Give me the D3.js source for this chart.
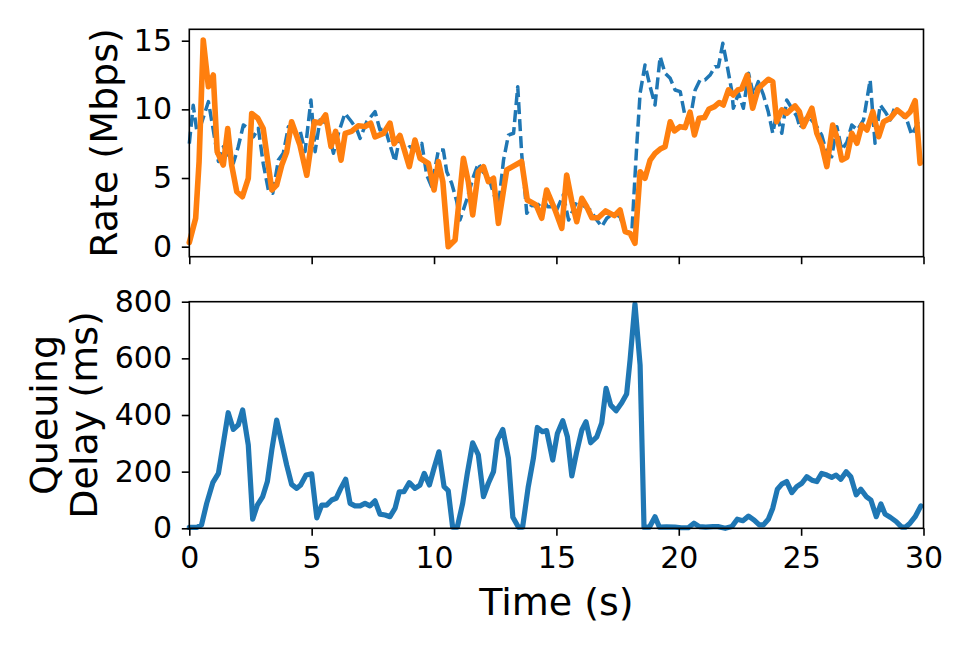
<!DOCTYPE html>
<html>
<head>
<meta charset="utf-8">
<script src="https://cdn.jsdelivr.net/npm/d3@7"></script>
<style>
  body { margin: 0; background: #fff; }
  text { font-family: "DejaVu Sans", sans-serif; fill: #000; }
</style>
</head>
<body>
<div id="chart"></div>
<script>
const svgWidth = 969, svgHeight = 646;
const plotLeft = 189.3, plotRight = 923.5;
const topPanel = { top: 29.3, bottom: 256.7 };
const botPanel = { top: 301.7, bottom: 528.3 };

const xTicks = [0, 5, 10, 15, 20, 25, 30];
const rateTicks = [0, 5, 10, 15];
const delayTicks = [0, 200, 400, 600, 800];

// blue dashed rate line
const capTimes = [0, 0.16, 0.3, 0.5, 0.78, 0.98, 1.19, 1.39, 1.59, 1.8, 2.0, 2.21, 2.41, 2.62, 2.82, 3.02, 3.23, 3.41, 3.64, 3.84,
  4.05, 4.3, 4.52, 4.73, 4.97, 5.14, 5.34, 5.6, 5.89, 6.1, 6.36, 6.63, 6.85, 6.98, 7.25, 7.59, 7.79, 8.0, 8.2, 8.41,
  8.61, 8.82, 9.0, 9.29, 9.5, 9.7, 9.9, 10.18, 10.38, 10.52, 10.72, 10.93, 11.06, 11.33, 11.61, 11.81, 12.02, 12.22, 12.43, 12.63,
  12.84, 13.04, 13.25, 13.42, 13.58, 13.79, 13.99, 14.2, 14.47, 14.65, 14.88, 15.01, 15.28, 15.5, 15.83, 16.1, 16.38, 16.65, 16.85, 17.06,
  17.33, 17.6, 17.81, 18.08, 18.28, 18.42, 18.62, 18.83, 19.03, 19.24, 19.44, 19.65, 19.85, 20.06, 20.26, 20.46, 20.67, 20.87, 21.07, 21.28,
  21.48, 21.62, 21.8, 21.96, 22.17, 22.23, 22.44, 22.64, 22.85, 23.05, 23.25, 23.46, 23.66, 23.84, 24.0, 24.21, 24.41, 24.62, 24.82, 24.96,
  25.23, 25.44, 25.64, 25.84, 26.05, 26.25, 26.46, 26.66, 26.87, 27.07, 27.3, 27.55, 27.82, 28.02, 28.23, 28.43, 28.64, 28.84, 29.05, 29.32,
  29.52, 29.86];
const capRate = [7.5, 10.3, 8.5, 9.0, 10.56, 8.5, 6.2, 7.28, 6.7, 6.07, 7.28, 8.86, 8.62, 8.0, 8.62, 6.07, 4.13, 3.89, 6.31, 6.8,
  8.74, 8.4, 8.5, 6.92, 10.68, 6.92, 9.23, 9.0, 6.8, 8.3, 9.71, 9.1, 8.5, 7.89, 9.1, 9.83, 8.5, 8.62, 7.4, 6.2,
  8.13, 6.8, 7.28, 7.04, 7.53, 5.22, 4.37, 7.04, 7.04, 5.46, 4.62, 3.28, 1.94, 3.4, 5.1, 6.07, 5.4, 5.1, 3.89, 2.91,
  6.31, 8.13, 8.26, 11.65, 6.8, 2.43, 3.04, 2.9, 3.4, 2.9, 2.91, 2.67, 3.77, 1.94, 3.28, 3.0, 2.67, 1.94, 1.46, 2.07,
  2.43, 2.18, 1.09, 0.97, 7.28, 11.17, 13.23, 11.65, 10.32, 13.84, 12.63, 12.26, 11.41, 11.29, 9.47, 9.23, 11.41, 12.14, 12.14, 12.5,
  13.11, 13.11, 14.81, 13.36, 11.29, 10.08, 11.17, 10.08, 12.63, 11.05, 12.02, 11.05, 9.8, 8.26, 9.71, 8.26, 10.68, 10.08, 9.5, 8.62,
  9.47, 9.2, 8.74, 8.13, 6.8, 6.55, 8.74, 7.04, 7.6, 8.86, 8.5, 9.23, 12.14, 7.53, 10.32, 9.83, 9.23, 10.2, 9.71, 9.23,
  8.13, 9.35];

// orange solid rate line
const sendTimes = [0, 0.26, 0.4, 0.57, 0.78, 0.98, 1.14, 1.39, 1.57, 1.73, 1.94, 2.17, 2.41, 2.55, 2.8, 3.02, 3.37, 3.57, 3.78, 3.98,
  4.18, 4.52, 4.8, 5.11, 5.34, 5.57, 5.79, 5.98, 6.2, 6.37, 6.63, 6.9, 7.18, 7.41, 7.59, 7.93, 8.2, 8.37, 8.61, 8.99,
  9.22, 9.43, 9.77, 10.0, 10.18, 10.36, 10.58, 10.86, 11.2, 11.4, 11.58, 11.81, 12.02, 12.22, 12.43, 12.63, 12.97, 13.58, 13.81, 14.17,
  14.4, 14.6, 14.94, 15.22, 15.42, 15.63, 15.83, 16.04, 16.24, 16.45, 16.71, 17.01, 17.37, 17.6, 17.81, 18.01, 18.21, 18.42, 18.62, 18.83,
  19.03, 19.24, 19.44, 19.65, 19.82, 20.05, 20.26, 20.46, 20.64, 20.83, 21.05, 21.24, 21.46, 21.65, 21.82, 22.03, 22.23, 22.41, 22.57, 22.8,
  23.02, 23.25, 23.66, 23.84, 24.0, 24.21, 24.41, 24.75, 24.93, 25.09, 25.44, 25.64, 25.84, 26.05, 26.29, 26.48, 26.66, 26.87, 27.07, 27.28,
  27.48, 27.69, 27.93, 28.17, 28.37, 28.64, 28.92, 29.26, 29.46, 29.66, 29.86];
const sendRate = [0.3, 2.07, 6.2, 15.05, 11.65, 12.5, 6.9, 5.95, 8.6, 5.95, 4.0, 3.64, 4.98, 9.7, 9.35, 8.6, 4.13, 4.49, 5.95, 6.9,
  9.1, 7.4, 5.2, 9.1, 9.0, 9.6, 7.3, 8.4, 6.3, 8.25, 8.4, 8.8, 8.75, 9.0, 8.0, 8.25, 9.0, 7.5, 8.1, 5.83,
  7.77, 6.44, 6.07, 4.13, 6.2, 4.73, 0.0, 0.49, 6.44, 4.73, 2.31, 5.46, 5.83, 4.73, 4.98, 1.7, 5.59, 6.2, 3.4, 3.04,
  2.07, 4.13, 2.7, 1.34, 5.22, 3.28, 1.82, 3.52, 2.91, 2.11, 2.11, 2.6, 2.26, 2.67, 1.09, 0.97, 0.25, 5.46, 4.98, 6.31,
  6.8, 7.11, 7.28, 9.1, 8.43, 8.74, 8.67, 9.79, 8.13, 9.35, 9.4, 10.03, 10.2, 10.5, 10.32, 11.41, 11.05, 11.41, 11.49, 12.5,
  10.08, 11.53, 12.19, 12.02, 9.1, 9.96, 9.71, 10.25, 9.83, 8.74, 10.08, 8.26, 7.41, 5.83, 8.86, 7.89, 6.31, 6.51, 8.26, 7.53,
  8.86, 8.5, 9.83, 8.01, 9.1, 9.35, 9.96, 9.47, 9.83, 10.63, 6.07];

// queuing delay
const delayTimes = [0, 0.3, 0.5, 0.71, 0.96, 1.19, 1.39, 1.59, 1.8, 2.0, 2.18, 2.41, 2.59, 2.78, 3.0, 3.19, 3.37, 3.57, 3.78, 3.98,
  4.18, 4.39, 4.55, 4.77, 5.0, 5.21, 5.41, 5.61, 5.82, 6.0, 6.19, 6.39, 6.57, 6.77, 6.98, 7.18, 7.38, 7.59, 7.79, 8.0,
  8.2, 8.41, 8.58, 8.77, 8.99, 9.22, 9.43, 9.6, 9.81, 10.0, 10.2, 10.41, 10.58, 10.76, 10.95, 11.17, 11.36, 11.58, 11.81, 12.02,
  12.22, 12.43, 12.59, 12.81, 13.04, 13.22, 13.45, 13.62, 13.85, 14.06, 14.22, 14.43, 14.6, 14.85, 15.04, 15.26, 15.45, 15.63, 15.83, 16.04,
  16.21, 16.4, 16.65, 16.85, 17.03, 17.22, 17.44, 17.67, 17.87, 18.01, 18.21, 18.42, 18.58, 18.8, 19.03, 19.21, 19.5, 19.85, 20.1, 20.39,
  20.62, 20.84, 21.1, 21.4, 21.6, 21.9, 22.17, 22.39, 22.62, 22.85, 23.08, 23.29, 23.46, 23.66, 23.84, 24.03, 24.21, 24.41, 24.62, 24.82,
  25.03, 25.23, 25.44, 25.64, 25.84, 26.05, 26.25, 26.43, 26.62, 26.84, 27.03, 27.25, 27.44, 27.66, 27.85, 28.07, 28.26, 28.43, 28.64, 28.88,
  29.11, 29.26, 29.45, 29.66, 29.89];
const delayMs = [3, 3, 12, 88, 161, 194, 300, 408, 349, 365, 418, 294, 32, 82, 112, 165, 276, 382, 300, 223,
  155, 141, 153, 188, 192, 37, 82, 82, 100, 106, 141, 173, 88, 79, 79, 88, 79, 97, 50, 47,
  41, 71, 129, 129, 161, 141, 153, 194, 153, 212, 270, 147, 133, 4, 4, 88, 194, 302, 259, 112,
  159, 200, 312, 349, 247, 39, 4, 4, 147, 247, 356, 341, 345, 241, 335, 380, 323, 185, 270, 347,
  376, 302, 323, 371, 494, 435, 415, 443, 474, 594, 792, 576, 4, 4, 41, 4, 5, 4, 2, 2,
  18, 6, 4, 6, 6, 0, 6, 32, 27, 43, 29, 12, 12, 32, 71, 138, 156, 165, 126, 147,
  159, 182, 170, 165, 194, 188, 180, 188, 173, 200, 182, 118, 138, 112, 100, 41, 86, 50, 39, 24,
  4, 4, 18, 41, 79];

const blue = "#1f77b4", orange = "#ff7f0e";

let svg = d3.select("#chart")
  .append("svg")
  .attr("width", svgWidth)
  .attr("height", svgHeight);

svg.append("rect").attr("width", svgWidth).attr("height", svgHeight).attr("fill", "#fff");

let x = d3.scaleLinear().domain([0, 30]).range([plotLeft, plotRight]);
let yRate = d3.scaleLinear().domain([-0.73, 15.83]).range([topPanel.bottom, topPanel.top]);
let yDelay = d3.scaleLinear().domain([0, 800]).range([botPanel.bottom, botPanel.top]);

function add_series(times, values, y, color, width, dash) {
  let pts = times.map((t, i) => [t, values[i]]);
  let line = d3.line().x(d => x(d[0])).y(d => y(d[1]));
  let p = svg.append("path")
    .datum(pts)
    .attr("d", line)
    .attr("fill", "none")
    .attr("stroke", color)
    .attr("stroke-width", width)
    .attr("stroke-linejoin", "round")
    .attr("stroke-linecap", dash ? "butt" : "round");
  if (dash) p.attr("stroke-dasharray", dash);
}

function add_frame(panel, y, yTicks, showX) {
  let fontSize = 30;
  // left axis
  let yAxis = d3.axisLeft(y).tickValues(yTicks).tickSize(7.5).tickPadding(9.8).tickFormat(d3.format("d"));
  let gy = svg.append("g").attr("transform", `translate(${plotLeft},0)`).call(yAxis);
  gy.select(".domain").remove();
  gy.selectAll(".tick line").attr("stroke", "#000").attr("stroke-width", 1.6);
  gy.selectAll(".tick text").style("font-size", fontSize + "px").attr("font-family", "DejaVu Sans").attr("fill", "#000");

  let xAxis = d3.axisBottom(x).tickValues(xTicks).tickSize(7.5).tickPadding(11).tickFormat(showX ? d3.format("d") : "");
  let gx = svg.append("g").attr("transform", `translate(0,${panel.bottom})`).call(xAxis);
  gx.select(".domain").remove();
  gx.selectAll(".tick line").attr("stroke", "#000").attr("stroke-width", 1.6);
  gx.selectAll(".tick text").style("font-size", fontSize + "px").attr("font-family", "DejaVu Sans").attr("fill", "#000");

  svg.append("rect")
    .attr("x", plotLeft)
    .attr("y", panel.top)
    .attr("width", plotRight - plotLeft)
    .attr("height", panel.bottom - panel.top)
    .attr("fill", "none")
    .attr("stroke", "#000")
    .attr("stroke-width", 1.6);
}

add_series(capTimes, capRate, yRate, blue, 3.5, "12,5");
add_series(sendTimes, sendRate, yRate, orange, 5.6, null);
add_series(delayTimes, delayMs, yDelay, blue, 5.2, null);

add_frame(topPanel, yRate, rateTicks, false);
add_frame(botPanel, yDelay, delayTicks, true);

// axis titles
let labelSize = 38;
svg.append("text")
  .attr("transform", `translate(117,${(topPanel.top + topPanel.bottom) / 2}) rotate(-90)`)
  .attr("text-anchor", "middle")
  .style("font-size", labelSize + "px")
  .text("Rate (Mbps)");

let qy = (botPanel.top + botPanel.bottom) / 2;
svg.append("text")
  .attr("transform", `translate(57,${qy}) rotate(-90)`)
  .attr("text-anchor", "middle")
  .style("font-size", labelSize + "px")
  .text("Queuing");
svg.append("text")
  .attr("transform", `translate(97,${qy}) rotate(-90)`)
  .attr("text-anchor", "middle")
  .style("font-size", labelSize + "px")
  .text("Delay (ms)");

svg.append("text")
  .attr("x", (plotLeft + plotRight) / 2)
  .attr("y", 615)
  .attr("text-anchor", "middle")
  .style("font-size", labelSize + "px")
  .text("Time (s)");
</script>
</body>
</html>
